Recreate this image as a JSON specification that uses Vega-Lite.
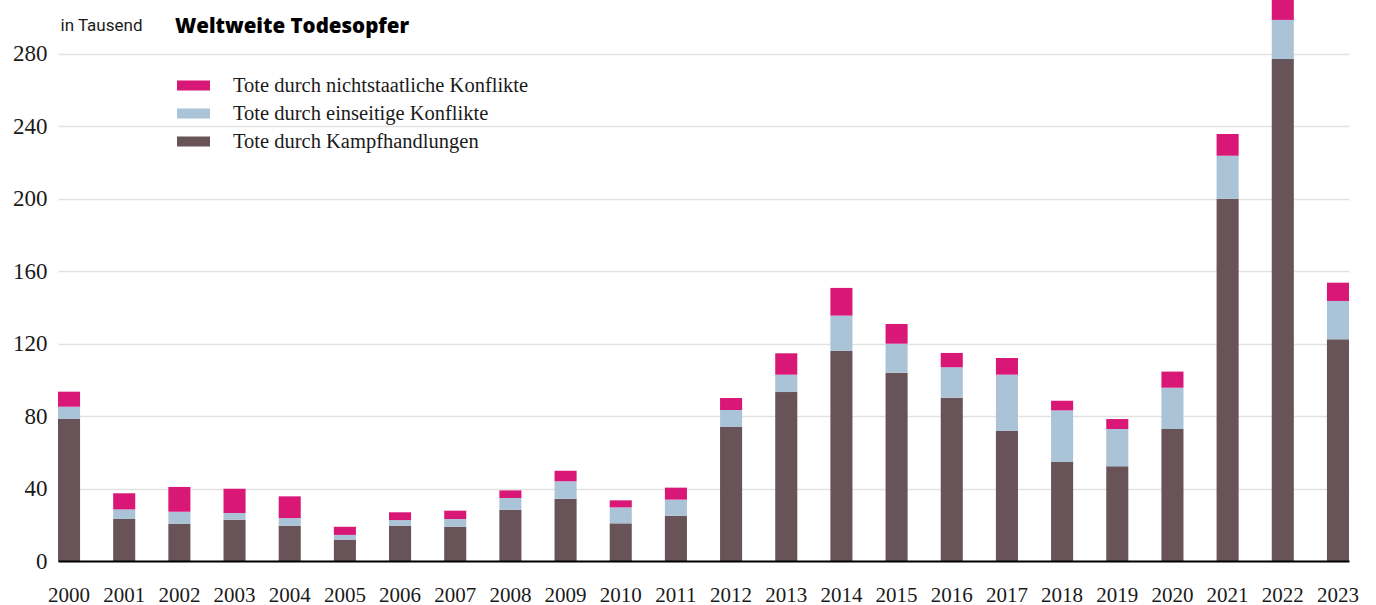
{
  "$schema": "https://vega.github.io/schema/vega-lite/v6.json",
  "autosize": "none",
  "width": 1291,
  "height": 561,
  "padding": {"left": 58, "top": 0, "right": 27, "bottom": 44},
  "background": "white",
  "title": {
    "text": "Weltweite Todesopfer",
    "anchor": "start",
    "frame": "group",
    "orient": "top",
    "offset": 0,
    "dx": 117,
    "dy": 53,
    "baseline": "alphabetic",
    "font": "Open Sans",
    "fontSize": 20.5,
    "fontWeight": 800,
    "color": "#000000"
  },
  "data": {
    "values": [
      {"Jahr": "2000", "Tote durch Kampfhandlungen": 78.4, "Tote durch einseitige Konflikte": 6.8, "Tote durch nichtstaatliche Konflikte": 8.3},
      {"Jahr": "2001", "Tote durch Kampfhandlungen": 23.2, "Tote durch einseitige Konflikte": 5.3, "Tote durch nichtstaatliche Konflikte": 8.9},
      {"Jahr": "2002", "Tote durch Kampfhandlungen": 20.6, "Tote durch einseitige Konflikte": 6.6, "Tote durch nichtstaatliche Konflikte": 13.7},
      {"Jahr": "2003", "Tote durch Kampfhandlungen": 22.8, "Tote durch einseitige Konflikte": 3.7, "Tote durch nichtstaatliche Konflikte": 13.4},
      {"Jahr": "2004", "Tote durch Kampfhandlungen": 19.5, "Tote durch einseitige Konflikte": 4.2, "Tote durch nichtstaatliche Konflikte": 12.0},
      {"Jahr": "2005", "Tote durch Kampfhandlungen": 11.8, "Tote durch einseitige Konflikte": 2.6, "Tote durch nichtstaatliche Konflikte": 4.5},
      {"Jahr": "2006", "Tote durch Kampfhandlungen": 19.5, "Tote durch einseitige Konflikte": 3.1, "Tote durch nichtstaatliche Konflikte": 4.3},
      {"Jahr": "2007", "Tote durch Kampfhandlungen": 18.9, "Tote durch einseitige Konflikte": 4.3, "Tote durch nichtstaatliche Konflikte": 4.6},
      {"Jahr": "2008", "Tote durch Kampfhandlungen": 28.3, "Tote durch einseitige Konflikte": 6.5, "Tote durch nichtstaatliche Konflikte": 4.2},
      {"Jahr": "2009", "Tote durch Kampfhandlungen": 34.4, "Tote durch einseitige Konflikte": 9.6, "Tote durch nichtstaatliche Konflikte": 5.9},
      {"Jahr": "2010", "Tote durch Kampfhandlungen": 20.8, "Tote durch einseitige Konflikte": 8.8, "Tote durch nichtstaatliche Konflikte": 3.9},
      {"Jahr": "2011", "Tote durch Kampfhandlungen": 25.0, "Tote durch einseitige Konflikte": 8.9, "Tote durch nichtstaatliche Konflikte": 6.6},
      {"Jahr": "2012", "Tote durch Kampfhandlungen": 74.0, "Tote durch einseitige Konflikte": 9.4, "Tote durch nichtstaatliche Konflikte": 6.6},
      {"Jahr": "2013", "Tote durch Kampfhandlungen": 93.3, "Tote durch einseitige Konflikte": 9.6, "Tote durch nichtstaatliche Konflikte": 11.8},
      {"Jahr": "2014", "Tote durch Kampfhandlungen": 116.0, "Tote durch einseitige Konflikte": 19.5, "Tote durch nichtstaatliche Konflikte": 15.3},
      {"Jahr": "2015", "Tote durch Kampfhandlungen": 104.0, "Tote durch einseitige Konflikte": 16.0, "Tote durch nichtstaatliche Konflikte": 10.9},
      {"Jahr": "2016", "Tote durch Kampfhandlungen": 90.2, "Tote durch einseitige Konflikte": 16.8, "Tote durch nichtstaatliche Konflikte": 7.9},
      {"Jahr": "2017", "Tote durch Kampfhandlungen": 71.8, "Tote durch einseitige Konflikte": 31.1, "Tote durch nichtstaatliche Konflikte": 9.2},
      {"Jahr": "2018", "Tote durch Kampfhandlungen": 54.7, "Tote durch einseitige Konflikte": 28.5, "Tote durch nichtstaatliche Konflikte": 5.3},
      {"Jahr": "2019", "Tote durch Kampfhandlungen": 52.3, "Tote durch einseitige Konflikte": 20.6, "Tote durch nichtstaatliche Konflikte": 5.5},
      {"Jahr": "2020", "Tote durch Kampfhandlungen": 72.9, "Tote durch einseitige Konflikte": 22.8, "Tote durch nichtstaatliche Konflikte": 8.9},
      {"Jahr": "2021", "Tote durch Kampfhandlungen": 200.0, "Tote durch einseitige Konflikte": 23.8, "Tote durch nichtstaatliche Konflikte": 12.0},
      {"Jahr": "2022", "Tote durch Kampfhandlungen": 277.2, "Tote durch einseitige Konflikte": 21.6, "Tote durch nichtstaatliche Konflikte": 16.0},
      {"Jahr": "2023", "Tote durch Kampfhandlungen": 122.4, "Tote durch einseitige Konflikte": 21.2, "Tote durch nichtstaatliche Konflikte": 10.1}
    ]
  },
  "transform": [
    {"fold": ["Tote durch Kampfhandlungen", "Tote durch einseitige Konflikte", "Tote durch nichtstaatliche Konflikte"], "as": ["Typ", "Wert"]}
  ],
  "mark": {"type": "bar", "clip": true},
  "encoding": {
    "x": {
      "field": "Jahr",
      "type": "ordinal",
      "scale": {"paddingInner": 0.6, "paddingOuter": 0},
      "axis": {
        "title": null,
        "ticks": false,
        "tickSize": 0,
        "labelAngle": 0,
        "labelFont": "Liberation Serif",
        "labelFontSize": 21,
        "labelColor": "#1a1a1a",
        "labelBaseline": "alphabetic",
        "labelPadding": 40,
        "domain": true,
        "domainColor": "#000000",
        "domainWidth": 2,
        "grid": false,
        "zindex": 1
      }
    },
    "y": {
      "field": "Wert",
      "type": "quantitative",
      "stack": "zero",
      "scale": {"domain": [0, 309.8], "nice": false, "zero": true},
      "axis": {
        "values": [0, 40, 80, 120, 160, 200, 240, 280],
        "title": "in Tausend",
        "titleAngle": 0,
        "titleAlign": "left",
        "titleBaseline": "alphabetic",
        "titleX": 2,
        "titleY": 30,
        "titleFont": "Roboto",
        "titleFontSize": 17,
        "titleFontWeight": "normal",
        "titleColor": "#1a1a1a",
        "domain": false,
        "ticks": false,
        "tickSize": 0,
        "labelFont": "Liberation Serif",
        "labelFontSize": 23,
        "labelColor": "#1a1a1a",
        "labelPadding": 11,
        "labelBaseline": "middle",
        "grid": true,
        "gridColor": "#e2e2e2",
        "gridWidth": 1.5
      }
    },
    "color": {
      "field": "Typ",
      "type": "nominal",
      "scale": {
        "domain": ["Tote durch nichtstaatliche Konflikte", "Tote durch einseitige Konflikte", "Tote durch Kampfhandlungen"],
        "range": ["#D91777", "#AAC3D6", "#685358"]
      },
      "legend": {
        "title": null,
        "orient": "none",
        "legendX": 119,
        "legendY": 69,
        "padding": 0,
        "symbolType": "M-1,-0.3H1V0.3H-1Z",
        "symbolSize": 1089,
        "symbolStrokeWidth": 0,
        "symbolOpacity": 1,
        "labelFont": "Liberation Serif",
        "labelFontSize": 20.5,
        "labelColor": "#1a1a1a",
        "labelOffset": 23,
        "rowPadding": 1,
        "labelLimit": 600
      }
    },
    "order": {"field": "Typ", "sort": "ascending"}
  },
  "config": {
    "view": {"stroke": null}
  }
}
